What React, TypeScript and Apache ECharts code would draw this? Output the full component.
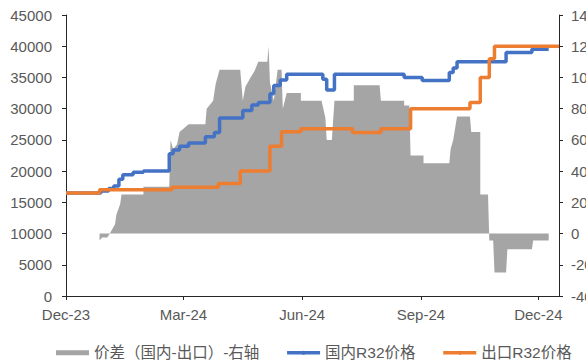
import React, { useEffect, useRef } from "react";
import * as echarts from "echarts";

const tickDates = ["2023-12-01", "2024-03-01", "2024-06-01", "2024-09-01", "2024-12-01"];
const tickLabels = ["Dec-23", "Mar-24", "Jun-24", "Sep-24", "Dec-24"];
const axisStart = "2023-12-01";
const axisEnd = "2024-12-17";

const domesticPrice: [string, number][] = [
  ["2023-12-01", 16500],
  ["2023-12-28", 16800],
  ["2024-01-03", 17200],
  ["2024-01-07", 17600],
  ["2024-01-11", 18700],
  ["2024-01-14", 19400],
  ["2024-01-22", 19800],
  ["2024-01-30", 20000],
  ["2024-02-19", 22800],
  ["2024-02-22", 23400],
  ["2024-02-27", 24000],
  ["2024-03-05", 24500],
  ["2024-03-18", 25500],
  ["2024-03-25", 26200],
  ["2024-03-29", 28500],
  ["2024-04-16", 29700],
  ["2024-04-23", 30600],
  ["2024-04-28", 31000],
  ["2024-05-07", 32400],
  ["2024-05-10", 33700],
  ["2024-05-15", 34600],
  ["2024-05-20", 35500],
  ["2024-06-17", 34700],
  ["2024-06-20", 33000],
  ["2024-06-26", 35500],
  ["2024-08-19", 35000],
  ["2024-09-02", 34500],
  ["2024-09-23", 35800],
  ["2024-09-26", 36500],
  ["2024-09-29", 37500],
  ["2024-11-06", 39000],
  ["2024-11-26", 39500],
  ["2024-12-09", 39500],
];

const exportPrice: [string, number][] = [
  ["2023-12-01", 16500],
  ["2023-12-27", 17000],
  ["2024-02-21", 17400],
  ["2024-03-28", 18000],
  ["2024-04-14", 20000],
  ["2024-05-07", 24000],
  ["2024-05-16", 26300],
  ["2024-05-31", 26800],
  ["2024-07-10", 26200],
  ["2024-08-01", 26800],
  ["2024-08-24", 30000],
  ["2024-10-09", 31000],
  ["2024-10-17", 35000],
  ["2024-10-24", 38000],
  ["2024-10-28", 40000],
  ["2024-12-17", 40000],
];

const priceGap: [string, number][] = [
  ["2023-12-27", -450],
  ["2023-12-29", -250],
  ["2024-01-02", -250],
  ["2024-01-04", 0],
  ["2024-01-06", 300],
  ["2024-01-08", 600],
  ["2024-01-09", 1200],
  ["2024-01-12", 1900],
  ["2024-01-13", 2500],
  ["2024-01-30", 2500],
  ["2024-01-30", 3000],
  ["2024-02-19", 3000],
  ["2024-02-20", 6000],
  ["2024-02-22", 5400],
  ["2024-02-25", 5700],
  ["2024-02-27", 6500],
  ["2024-03-05", 7000],
  ["2024-03-18", 7000],
  ["2024-03-19", 8000],
  ["2024-03-24", 8500],
  ["2024-03-26", 9600],
  ["2024-03-29", 10500],
  ["2024-04-14", 10500],
  ["2024-04-16", 8500],
  ["2024-04-18", 9400],
  ["2024-04-22", 10000],
  ["2024-04-25", 10400],
  ["2024-04-28", 11000],
  ["2024-05-05", 11000],
  ["2024-05-06", 12000],
  ["2024-05-07", 9700],
  ["2024-05-10", 8500],
  ["2024-05-13", 10500],
  ["2024-05-16", 10500],
  ["2024-05-17", 8000],
  ["2024-05-20", 9000],
  ["2024-05-31", 9000],
  ["2024-05-31", 8500],
  ["2024-06-16", 8500],
  ["2024-06-19", 7400],
  ["2024-06-20", 6000],
  ["2024-06-24", 6000],
  ["2024-06-26", 8500],
  ["2024-07-11", 8500],
  ["2024-07-11", 9500],
  ["2024-07-31", 9500],
  ["2024-08-01", 8500],
  ["2024-08-19", 8500],
  ["2024-08-19", 8200],
  ["2024-08-23", 8200],
  ["2024-08-24", 5000],
  ["2024-09-03", 5000],
  ["2024-09-03", 4500],
  ["2024-09-23", 4500],
  ["2024-09-24", 5400],
  ["2024-09-26", 6000],
  ["2024-09-29", 7500],
  ["2024-10-09", 7500],
  ["2024-10-10", 6500],
  ["2024-10-17", 6500],
  ["2024-10-17", 2500],
  ["2024-10-23", 2500],
  ["2024-10-24", -450],
  ["2024-10-27", -450],
  ["2024-10-28", -2500],
  ["2024-11-06", -2500],
  ["2024-11-07", -1000],
  ["2024-11-26", -1000],
  ["2024-11-27", -450],
  ["2024-12-09", -450],
];

const seriesNames = ["价差（国内-出口）-右轴", "国内R32价格", "出口R32价格"];

const START = Date.parse(axisStart);
const toDay = (s: string) => (Date.parse(s) - START) / 86400000;
const toPoints = (arr: [string, number][]) => arr.map(([d, v]) => [toDay(d), v]);

export default function App() {
  const ref = useRef<HTMLDivElement>(null);
  useEffect(() => {
    if (!ref.current) return;
    const chart = echarts.init(ref.current, undefined, { renderer: "svg" });
    const font = "'Liberation Sans', Arial, 'Noto Sans CJK SC', sans-serif";
    const tickDays = tickDates.map(toDay);
    const labelColor = "#595959";
    const axisColor = "#262626";
    const plain = (v: number) => String(v);
    chart.setOption({
      animation: false,
      textStyle: { fontFamily: font },
      grid: { left: 66, right: 27, top: 15, bottom: 64, outerBoundsMode: "none", containLabel: false },
      legend: {
        left: 51,
        top: 340,
        itemWidth: 33,
        itemHeight: 5,
        itemGap: 26,
        textStyle: { fontSize: 15.5, color: labelColor, fontFamily: font },
        lineStyle: { width: 3.5 },
        data: [
          { name: seriesNames[0], icon: "rect" },
          { name: seriesNames[1] },
          { name: seriesNames[2] },
        ],
      },
      xAxis: {
        type: "value",
        min: 0,
        max: toDay(axisEnd),
        interval: 91.5,
        splitLine: { show: false },
        axisLine: { show: true, lineStyle: { color: axisColor, width: 1 } },
        axisTick: {
          show: true,
          length: 4,
          lineStyle: { color: axisColor },
          customValues: tickDays,
        },
        axisLabel: {
          margin: 11,
          fontSize: 15,
          color: labelColor,
          fontFamily: font,
          customValues: tickDays,
          formatter: (v: number) => {
            const i = tickDays.findIndex((t) => Math.abs(t - v) < 1);
            return i >= 0 ? tickLabels[i] : "";
          },
        },
      },
      yAxis: [
        {
          type: "value",
          min: 0,
          max: 45000,
          interval: 5000,
          splitLine: { show: false },
          axisLine: { show: true, lineStyle: { color: axisColor, width: 1 } },
          axisTick: { show: true, length: 4, lineStyle: { color: axisColor } },
          axisLabel: { margin: 14, fontSize: 15, color: labelColor, fontFamily: font, formatter: plain },
        },
        {
          type: "value",
          min: -4000,
          max: 14000,
          interval: 2000,
          position: "right",
          splitLine: { show: false },
          axisLine: { show: true, onZero: false, lineStyle: { color: axisColor, width: 1 } },
          axisTick: { show: true, length: 4, lineStyle: { color: axisColor } },
          axisLabel: { margin: 12, fontSize: 15, color: labelColor, fontFamily: font, formatter: plain },
        },
      ],
      series: [
        {
          name: seriesNames[0],
          type: "line",
          yAxisIndex: 1,
          symbol: "none",
          data: toPoints(priceGap),
          lineStyle: { width: 0, color: "#A5A5A5" },
          itemStyle: { color: "#A5A5A5" },
          areaStyle: { color: "#A5A5A5", opacity: 1 },
          z: 1,
        },
        {
          name: seriesNames[1],
          type: "line",
          yAxisIndex: 0,
          symbol: "none",
          step: "end",
          data: toPoints(domesticPrice),
          lineStyle: { width: 3.5, color: "#4472C4" },
          itemStyle: { color: "#4472C4" },
          z: 2,
        },
        {
          name: seriesNames[2],
          type: "line",
          yAxisIndex: 0,
          symbol: "none",
          step: "end",
          data: toPoints(exportPrice),
          lineStyle: { width: 3.5, color: "#ED7D31" },
          itemStyle: { color: "#ED7D31" },
          z: 3,
        },
      ],
    });
    return () => chart.dispose();
  }, []);
  return (
    <div
      ref={ref}
      style={{ position: "absolute", left: 0, top: 0, width: 586, height: 360 }}
    />
  );
}
